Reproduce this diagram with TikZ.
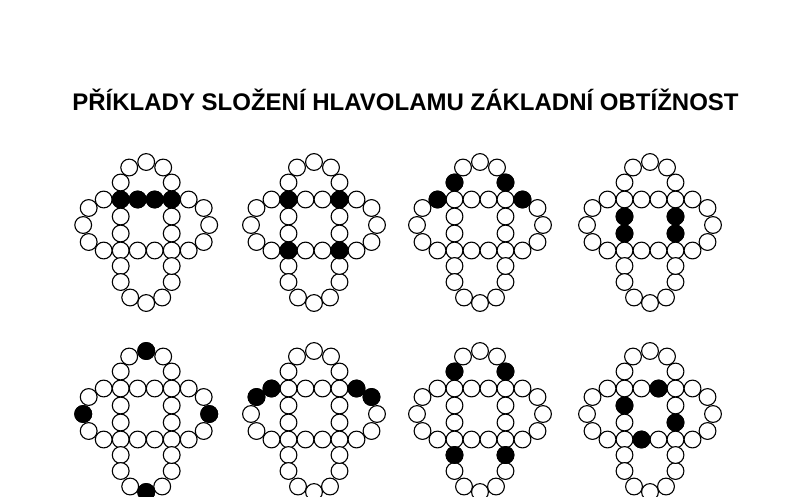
\documentclass[tikz,border=0pt]{standalone}
\usepackage{fontspec}
\setmainfont{Liberation Sans}
\tikzset{
  bead/.style={circle,draw=black,fill=white,line width=1.1pt,minimum size=16.8pt,inner sep=0pt,outer sep=0pt},
  beadblack/.style={bead,fill=black},
  titletext/.style={font=\bfseries\fontsize{24}{28}\selectfont,inner sep=0pt,anchor=base}
}
\newcommand\drawpuzzle[3]{%
  \begin{scope}[shift={#2}]
    \foreach \n/\x/\y in {S00/0/0, S10/17/0, S20/34/0, S30/51/0, S01/0/17, S31/51/17, S02/0/34, S32/51/34, S03/0/51, S13/17/51, S23/34/51, S33/51/51,
      T1/0/-17, T2/8.5/-32, T3/25.5/-37.5, T4/42.5/-32, T5/51/-17,
      L1/-17/0, L2/-32/8.5, L3/-37.5/25.5, L4/-32/42.5, L5/-17/51,
      R1/68/0, R2/83/8.5, R3/88.5/25.5, R4/83/42.5, R5/68/51,
      B1/0/66.5, B2/0/82.5, B3/9.5/98, B4/25.5/103.5, B5/41.5/98, B6/51/82.5, B7/51/66.5}
      \node[bead] (#1-\n) at (\x,\y) {};
    \foreach \n in {#3}
      \node[beadblack] (#1-\n-b) at (#1-\n) {};
  \end{scope}}
\begin{document}
\begin{tikzpicture}[x=1pt,y=-1pt]
  \useasboundingbox[fill=white] (0,0) rectangle (794,496);
  \node[titletext] (title) at (405.5,110) {PŘÍKLADY SLOŽENÍ HLAVOLAMU ZÁKLADNÍ OBTÍŽNOST};
  \drawpuzzle{p1}{(120.7,199.5)}{S00,S10,S20,S30}
  \drawpuzzle{p2}{(288.5,199.5)}{S00,S30,S03,S33}
  \drawpuzzle{p3}{(454.5,199.5)}{T1,T5,L1,R1}
  \drawpuzzle{p4}{(624.5,199.5)}{S01,S02,S31,S32}
  \drawpuzzle{p5}{(120.7,388.5)}{T3,L3,R3,B4}
  \drawpuzzle{p6}{(288.5,388.5)}{L1,L2,R1,R2}
  \drawpuzzle{p7}{(454.5,388.5)}{T1,T5,B1,B7}
  \drawpuzzle{p8}{(624.5,388.5)}{S20,S01,S32,S13}
\end{tikzpicture}
\end{document}
